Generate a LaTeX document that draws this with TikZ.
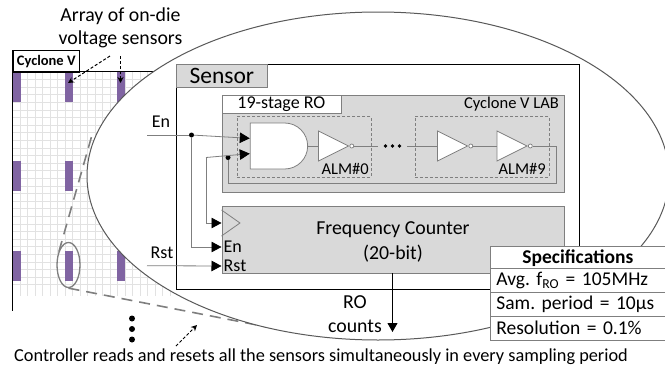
\documentclass[tikz,border=0pt]{standalone}
\usepackage{fontspec}
\setmainfont{Carlito}
\frenchspacing
\usetikzlibrary{shapes.geometric,shapes.gates.logic.US,arrows.meta}

\definecolor{boxgray}{HTML}{D9D9D9}
\definecolor{gridgray}{HTML}{E2E2E2}
\definecolor{linegray}{HTML}{7F7F7F}
\definecolor{barpurple}{HTML}{8064A2}

\begin{document}
\begin{tikzpicture}[x=1pt, y=-1pt, >={Triangle[length=10pt,width=10.5pt,color=black,fill=black]},
    txt/.style={inner sep=0pt, font=\fontsize{18.3}{22}\selectfont},
    lab/.style={inner sep=0pt, font=\fontsize{18}{21}\selectfont},
    smalllab/.style={inner sep=0pt, font=\fontsize{16.5}{19}\selectfont},
    wire/.style={draw=linegray, line width=0.8pt},
    callout/.style={densely dashed, line width=1pt, -{Stealth[length=6pt,width=6pt]}},
    zoomline/.style={draw=linegray, line width=1.6pt, dash pattern=on 11pt off 7pt},
    graybox/.style={rectangle, draw=linegray, fill=boxgray, line width=0.8pt, inner sep=0pt, anchor=north west},
    almbox/.style={rectangle, draw=linegray, densely dashed, line width=0.7pt, inner sep=0pt,
      anchor=north west, minimum width=134pt, minimum height=60.5pt},
    inv/.style={isosceles triangle, isosceles triangle stretches, shape border rotate=0, draw=linegray,
      fill=white, line width=0.8pt, inner sep=0pt, minimum width=30pt, minimum height=30pt, anchor=west},
    bubble/.style={circle, draw=linegray, fill=white, line width=0.7pt, inner sep=0pt, minimum size=4pt, anchor=west},
    dot/.style={circle, fill=black, inner sep=0pt, minimum size=5pt},
    bigdot/.style={circle, fill=black, inner sep=0pt, minimum size=6pt},
    spec/.style={rectangle, draw=linegray, fill=white, line width=0.8pt, inner sep=0pt, inner xsep=6pt,
      minimum width=175pt, minimum height=23.6pt, text width=163pt, align=left, anchor=north west, font=\fontsize{19.5}{22}\selectfont}]

  \clip (0,0) rectangle (665,370);

  % chip grid
  \foreach \gx in {0,...,21} \draw[gridgray, line width=0.7pt] (12.5+7.5*\gx,72) -- (12.5+7.5*\gx,296);
  \foreach \gy in {1,...,28} \draw[gridgray, line width=0.7pt] (12.5,72+7.6*\gy) -- (175,72+7.6*\gy);
  \foreach \bx in {13,65,117}
    \foreach \by in {72,161,251}
      \fill[barpurple] (\bx,\by) rectangle ++(7.5,30);

  \node[rectangle, draw=black, fill=white, line width=1pt, inner sep=0pt, anchor=north west,
    minimum width=66.5pt, minimum height=21.5pt, font=\fontsize{14.5}{17}\bfseries\selectfont] (chiplabel) at (12.5,50) {Cyclone V};
  \draw[line width=1.2pt] (12.5,50) -- (12.5,311);
  \draw[line width=1.2pt] (12.5,71.5) -- (165,71.5);

  \node[ellipse, draw=linegray, line width=1.3pt, inner sep=0pt, minimum width=23pt, minimum height=45pt] (tapped) at (68.5,265) {};
  \coordinate (zoomtop) at (92,135);
  \coordinate (zoombot) at (270,327.5);
  \draw[zoomline] (tapped.north west) ++(-1,3) -- (zoomtop);
  \draw[zoomline] (tapped.south) -- (zoombot);

  % magnified view
  \node[ellipse, draw=black!65, fill=white, line width=1pt, inner sep=0pt, minimum width=582pt, minimum height=328pt] (lens) at (378,176) {};

  \node[rectangle, draw=black, line width=1.2pt, inner sep=0pt, anchor=north west,
    minimum width=403pt, minimum height=225pt] (sensor) at (176,64) {};
  \node[graybox, minimum width=91pt, minimum height=23pt, font=\fontsize{23.5}{26}\selectfont] (sensorlabel) at (176,64) {Sensor};

  \node[graybox, minimum width=342.5pt, minimum height=97pt] (lab) at (221.5,95) {};
  \node[rectangle, draw=linegray, fill=white, line width=0.8pt, anchor=north west,
    minimum width=119pt, minimum height=17.5pt, lab] (rolabel) at (221.5,95) {19-stage RO};
  \node[smalllab, anchor=east] (lablabel) at (559,104) {Cyclone V LAB};
  \node[almbox] (alm0) at (236.5,116) {};
  \node[almbox] (alm9) at (414.5,116) {};
  \node[smalllab, anchor=east] (alm0label) at (369,169) {ALM\#0};
  \node[smalllab, anchor=east] (alm9label) at (546,169) {ALM\#9};

  \node[and gate US, draw=linegray, fill=white, line width=0.8pt, logic gate inputs=nn, inner sep=0pt,
    minimum width=56pt, minimum height=46pt, anchor=center] (gate) at (277,146) {};
  \node[inv] (inva) at (318,146) {};
  \node[bubble] (bubblea) at (inva.apex) {};
  \node[inv] (invb) at (437,146) {};
  \node[bubble] (bubbleb) at (invb.apex) {};
  \node[inv] (invc) at (496.5,146) {};
  \node[bubble] (bubblec) at (invc.apex) {};
  \coordinate (chainl) at (378,146);
  \coordinate (chainr) at (407,146);
  \foreach \dx in {-7,0,7} \fill (392.5+\dx,146) circle (1.8);

  \draw[wire] (gate.output) -- (inva.west);
  \draw[wire] (bubblea.east) -- (chainl);
  \draw[wire] (chainr) -- (invb.west);
  \draw[wire] (bubbleb.east) -- (invc.west);

  \node[graybox, minimum width=342.5pt, minimum height=67pt] (counter) at (221.5,206) {};
  \node[inner sep=0pt, align=center, font=\fontsize{19.8}{25}\selectfont] (counterlabel) at (393,242) {Frequency Counter\\(20-bit)};
  \coordinate (clktop) at (221.5,210);
  \coordinate (clktip) at (240,223);
  \coordinate (clkbot) at (221.5,236);
  \draw[wire] (clktop) -- (clktip) -- (clkbot);
  \node[lab, anchor=west] (enport) at (223.5,247) {En};
  \node[lab, anchor=west] (rstport) at (223.5,266) {Rst};

  % feedback and inputs
  \node[dot] (endot) at (191.5,135) {};
  \node[dot] (fbdot) at (228,157.5) {};
  \coordinate (fbturn) at (206,157.5);
  \coordinate (enin) at (147,135);
  \coordinate (rstin) at (147,265.7);
  \node[lab, anchor=center] (enlabel) at (161,122) {En};
  \node[lab, anchor=center] (rstlabel) at (162,253) {Rst};
  \draw[wire] (bubblec.east) -- (556.5,146) -- (556.5,183.5) -- (228,183.5) -- (fbdot);
  \draw[wire] (enin) -- (endot);
  \draw[wire, ->] (endot) -- (gate.input 1);
  \draw[wire, ->] (fbturn) -- (gate.input 2);
  \draw[wire, ->] (fbturn) |- (counter.west |- clktip);
  \draw[wire, ->] (endot) |- (counter.west |- enport);
  \draw[wire, ->] (rstin) -- (counter.west |- rstport);

  \node[inner sep=0pt, font=\fontsize{19.8}{22}\selectfont] (rolbl) at (355,302) {RO};
  \node[inner sep=0pt, font=\fontsize{19.8}{22}\selectfont] (countslbl) at (355,326) {counts};
  \coordinate (countsout) at (392.5,273);
  \coordinate (countsend) at (392.5,332);
  \draw[->, line width=1pt, >={Triangle[length=9pt,width=10pt]}] (countsout) -- (countsend);

  % specifications
  \node[spec, align=center, font=\fontsize{19.5}{22}\bfseries\selectfont] (spechead) at (490,245.7) {Specifications};
  \node[spec] (specfreq) at (490,268.3) {Avg. f\textsubscript{RO} = 105MHz};
  \node[spec] (specperiod) at (490,292.1) {Sam. period = 10µs};
  \node[spec] (specres) at (490,316) {Resolution = 0.1\%};

  % labels around the chip
  \node[inner sep=0pt, align=center, font=\fontsize{19.8}{23}\selectfont] (arraylabel) at (120.5,28) {Array of on-die\\voltage sensors};
  \coordinate (calla) at (110,56);
  \coordinate (callb) at (120.5,56);
  \draw[callout] (calla) -- (68,83);
  \draw[callout] (callb) -- (120.5,83);
  \node[bigdot] (morea) at (132,318.5) {};
  \node[bigdot] (moreb) at (132,329) {};
  \node[bigdot] (morec) at (132,339.5) {};
  \coordinate (ctrlfrom) at (176,346);
  \coordinate (ctrlto) at (197,325);
  \draw[callout] (ctrlfrom) -- (ctrlto);
  \node[txt, anchor=west] (ctrllabel) at (14,357) {Controller reads and resets all the sensors simultaneously in every sampling period};
\end{tikzpicture}
\end{document}
